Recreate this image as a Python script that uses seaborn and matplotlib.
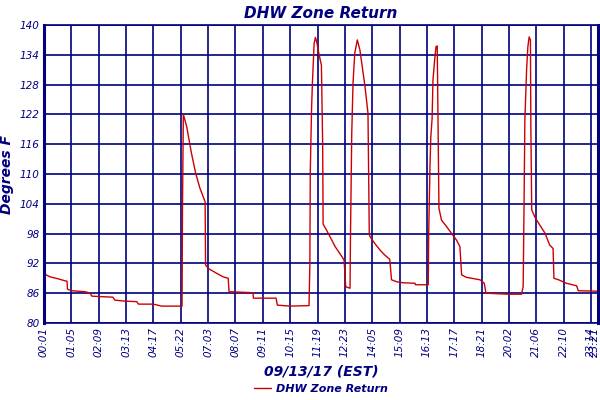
import pandas as pd
import numpy as np
import matplotlib
matplotlib.use("Agg")
import matplotlib.pyplot as plt
import seaborn as sns

# sample index (one sample per minute of logged data) and temperature (deg F)
sample_idx = [0, 14, 33, 49, 54, 55, 65, 96, 108, 112, 161, 166, 189, 217, 221, 256, 275, 323,
              324, 326, 334, 345, 355, 365, 377, 378, 384, 404, 419, 431, 433, 489, 490, 543,
              546, 575, 620, 622, 623, 626, 628, 632, 635, 638, 643, 649, 652, 653, 661, 669,
              681, 692, 702, 706, 716, 717, 720, 723, 727, 733, 739, 743, 751, 758, 761, 762,
              774, 786, 797, 809, 813, 825, 840, 868, 869, 899, 900, 903, 905, 908, 910, 914,
              917, 920, 922, 924, 930, 942, 953, 965, 973, 977, 988, 1020, 1030, 1034, 1086,
              1117, 1121, 1123, 1125, 1129, 1132, 1135, 1138, 1139, 1141, 1148, 1160, 1172,
              1183, 1191, 1193, 1204, 1222, 1246, 1250, 1296]
temp_f = [89.9, 89.3, 88.9, 88.5, 88.4, 86.8, 86.5, 86.3, 86.0, 85.4, 85.2, 84.6, 84.4, 84.3,
          83.8, 83.8, 83.4, 83.4, 102.8, 122.0, 119.5, 114.2, 110.1, 107.1, 104.4, 91.7, 91.0,
          90.0, 89.3, 89.0, 86.3, 86.1, 85.0, 85.0, 83.6, 83.4, 83.5, 91.7, 110.5, 123.2, 128.3,
          136.3, 137.5, 136.6, 134.3, 131.9, 115.8, 99.9, 98.7, 97.4, 95.4, 94.0, 92.7, 87.3,
          87.0, 97.1, 118.2, 128.3, 134.3, 137.0, 135.0, 132.6, 127.6, 122.2, 98.1, 97.5, 96.0,
          94.7, 93.7, 92.8, 88.7, 88.3, 88.1, 88.0, 87.7, 87.7, 98.1, 111.5, 117.5, 121.2,
          128.9, 133.0, 135.6, 135.8, 119.2, 103.1, 100.7, 99.4, 98.1, 96.7, 95.4, 89.7, 89.2,
          88.7, 88.0, 86.0, 85.8, 85.8, 87.3, 103.1, 120.9, 130.9, 135.6, 137.6, 137.0, 119.9,
          102.8, 101.4, 99.7, 98.1, 95.7, 95.0, 89.0, 88.7, 88.0, 87.5, 86.5, 86.4]

tick_idx = [0, 64, 128, 192, 256, 320, 384, 448, 512, 576, 640, 704, 768, 832, 896, 960,
            1024, 1088, 1152, 1216, 1280]
tick_labels = ["00:01", "01:05", "02:09", "03:13", "04:17", "05:22", "07:03", "08:07", "09:11",
               "10:15", "11:19", "12:23", "14:05", "15:09", "16:13", "17:17", "18:21", "20:02",
               "21:06", "22:10", "23:14"]
end_idx = [1289]
end_label = ["23:21"]
y_ticks = [80, 86, 92, 98, 104, 110, 116, 122, 128, 134, 140]

df = pd.DataFrame({"idx": sample_idx, "temp": temp_f, "series": "DHW Zone Return"})

sns.set_style("white")
plt.rcParams["font.family"] = ["DejaVu Sans"]
navy = "#000080"

fig = plt.figure(figsize=(6, 4), dpi=100)
ax = fig.add_axes([0.0733, 0.1925, 0.9233, 0.745])

sns.lineplot(data=df, x="idx", y="temp", hue="series", palette={"DHW Zone Return": "#cc0000"},
             linewidth=1.0, ax=ax, sort=False, estimator=None)

ax.set_xlim(0, 1296)
ax.set_ylim(80, 140)
ax.set_xticks(tick_idx)
ax.set_xticklabels(tick_labels, rotation=90, fontsize=7.5, style="italic", color=navy)
# last sample label sits beside the 23:14 line, without its own grid line
ax.set_xticks(end_idx, minor=True)
ax.set_xticklabels(end_label, minor=True, rotation=90, fontsize=7.5, style="italic", color=navy)
ax.set_yticks(y_ticks)
ax.set_yticklabels([str(v) for v in y_ticks], fontsize=7.5, style="italic", color=navy)
ax.tick_params(which="both", length=0, pad=3)
ax.grid(True, which="major", color=navy, linewidth=1.2)
ax.set_axisbelow(True)
for side, sp in ax.spines.items():
    sp.set_visible(True)
    sp.set_color(navy)
    sp.set_linewidth(1.2)
ax.spines["left"].set_linewidth(2.2)
ax.spines["right"].set_linewidth(2.2)

ax.set_title("DHW Zone Return", fontsize=11, fontweight="bold", style="italic", color=navy, pad=5)
ax.set_xlabel("09/13/17 (EST)", fontsize=10, fontweight="bold", style="italic", color=navy, labelpad=5)
ax.set_ylabel("Degrees F", fontsize=10, fontweight="bold", style="italic", color=navy, labelpad=4)

leg = ax.legend(loc="center", bbox_to_anchor=(0.5, -0.22), frameon=False,
                prop={"size": 8, "weight": "bold", "style": "italic"}, handlelength=1.5,
                handletextpad=0.4)
for t in leg.get_texts():
    t.set_color(navy)

fig.savefig("out.png", dpi=100)
plt.close(fig)
